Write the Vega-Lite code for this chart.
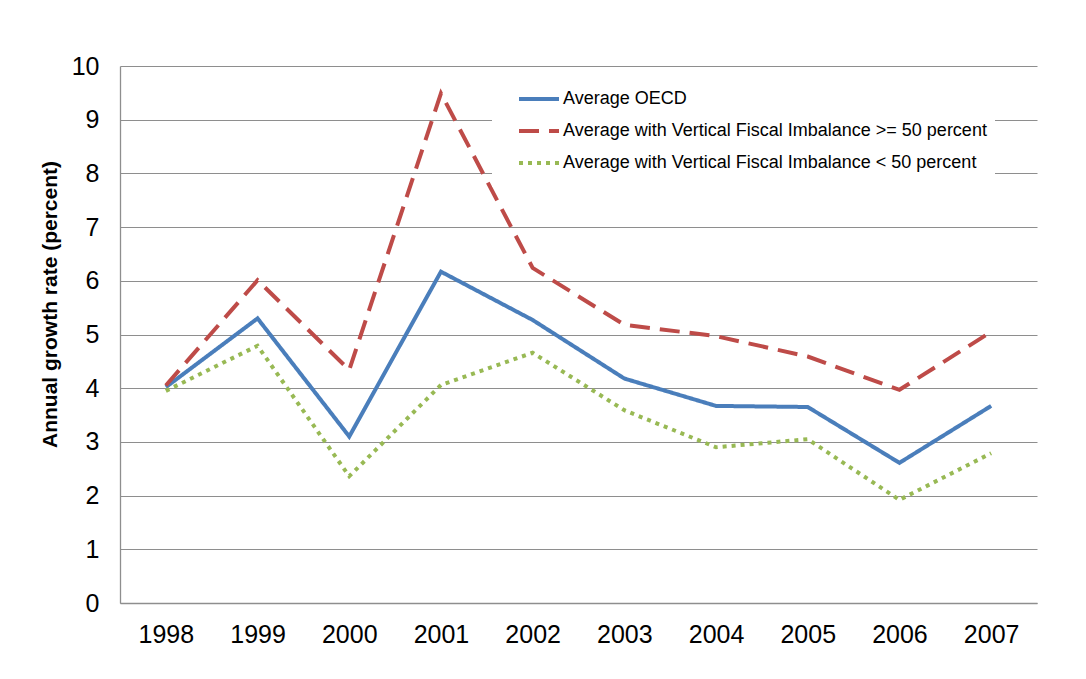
{
  "$schema": "https://vega.github.io/schema/vega-lite/v6.json",
  "width": 917,
  "height": 537,
  "autosize": "none",
  "padding": {"left": 120, "top": 66, "right": 49, "bottom": 76},
  "background": "white",
  "config": {"view": {"stroke": null}, "font": "Liberation Sans"},
  "data": {"values": [
    {"series": "Average OECD", "year": "1998", "value": 4.02},
    {"series": "Average OECD", "year": "1999", "value": 5.30},
    {"series": "Average OECD", "year": "2000", "value": 3.10},
    {"series": "Average OECD", "year": "2001", "value": 6.17},
    {"series": "Average OECD", "year": "2002", "value": 5.27},
    {"series": "Average OECD", "year": "2003", "value": 4.18},
    {"series": "Average OECD", "year": "2004", "value": 3.67},
    {"series": "Average OECD", "year": "2005", "value": 3.65},
    {"series": "Average OECD", "year": "2006", "value": 2.61},
    {"series": "Average OECD", "year": "2007", "value": 3.67},
    {"series": "Average with Vertical Fiscal Imbalance >= 50 percent", "year": "1998", "value": 4.05},
    {"series": "Average with Vertical Fiscal Imbalance >= 50 percent", "year": "1999", "value": 6.01},
    {"series": "Average with Vertical Fiscal Imbalance >= 50 percent", "year": "2000", "value": 4.34},
    {"series": "Average with Vertical Fiscal Imbalance >= 50 percent", "year": "2001", "value": 9.49},
    {"series": "Average with Vertical Fiscal Imbalance >= 50 percent", "year": "2002", "value": 6.24},
    {"series": "Average with Vertical Fiscal Imbalance >= 50 percent", "year": "2003", "value": 5.18},
    {"series": "Average with Vertical Fiscal Imbalance >= 50 percent", "year": "2004", "value": 4.97},
    {"series": "Average with Vertical Fiscal Imbalance >= 50 percent", "year": "2005", "value": 4.59},
    {"series": "Average with Vertical Fiscal Imbalance >= 50 percent", "year": "2006", "value": 3.97},
    {"series": "Average with Vertical Fiscal Imbalance >= 50 percent", "year": "2007", "value": 5.05},
    {"series": "Average with Vertical Fiscal Imbalance < 50 percent", "year": "1998", "value": 3.95},
    {"series": "Average with Vertical Fiscal Imbalance < 50 percent", "year": "1999", "value": 4.79},
    {"series": "Average with Vertical Fiscal Imbalance < 50 percent", "year": "2000", "value": 2.36},
    {"series": "Average with Vertical Fiscal Imbalance < 50 percent", "year": "2001", "value": 4.06},
    {"series": "Average with Vertical Fiscal Imbalance < 50 percent", "year": "2002", "value": 4.66},
    {"series": "Average with Vertical Fiscal Imbalance < 50 percent", "year": "2003", "value": 3.59},
    {"series": "Average with Vertical Fiscal Imbalance < 50 percent", "year": "2004", "value": 2.90},
    {"series": "Average with Vertical Fiscal Imbalance < 50 percent", "year": "2005", "value": 3.05},
    {"series": "Average with Vertical Fiscal Imbalance < 50 percent", "year": "2006", "value": 1.92},
    {"series": "Average with Vertical Fiscal Imbalance < 50 percent", "year": "2007", "value": 2.79}
  ]},
  "mark": {"type": "line", "strokeWidth": 4},
  "encoding": {
    "x": {
      "field": "year", "type": "ordinal",
      "scale": {"type": "point", "padding": 0.5},
      "axis": {"title": null, "labelAngle": 0, "ticks": false, "grid": false, "domainColor": "#8E8E8E", "domainWidth": 1.3, "labelFontSize": 25, "labelColor": "black", "labelPadding": 19}
    },
    "y": {
      "field": "value", "type": "quantitative",
      "scale": {"domain": [0, 10]},
      "axis": {
        "title": "Annual growth rate (percent)",
        "values": [0, 1, 2, 3, 4, 5, 6, 7, 8, 9, 10],
        "ticks": false, "gridColor": "#8E8E8E", "gridWidth": 1.2, "gridOpacity": 1,
        "domainColor": "#8E8E8E", "domainWidth": 1.3,
        "labelFontSize": 25, "labelColor": "black", "labelPadding": 21,
        "titleFontSize": 21, "titleFontWeight": "bold", "titleColor": "black",
        "titleX": -64, "titleY": 238, "titleAngle": -90, "titleAlign": "center", "titleBaseline": "alphabetic"
      }
    },
    "color": {
      "field": "series", "type": "nominal",
      "scale": {
        "domain": ["Average OECD", "Average with Vertical Fiscal Imbalance >= 50 percent", "Average with Vertical Fiscal Imbalance < 50 percent"],
        "range": ["#4A7EBB", "#BE4B48", "#98B954"]
      },
      "legend": {
        "title": " ", "titleOrient": "left", "titleFontSize": 1, "titlePadding": 17,
        "orient": "none", "legendX": 372, "legendY": 9,
        "symbolType": "stroke", "symbolSize": 1600, "symbolStrokeWidth": 4,
        "labelFontSize": 18, "labelColor": "black", "labelOffset": 2, "labelLimit": 600,
        "clipHeight": 32, "rowPadding": 0, "padding": 8, "fillColor": "white"
      }
    },
    "strokeDash": {
      "field": "series", "type": "nominal",
      "scale": {
        "domain": ["Average OECD", "Average with Vertical Fiscal Imbalance >= 50 percent", "Average with Vertical Fiscal Imbalance < 50 percent"],
        "range": [[1, 0], [20, 10], [4, 5]]
      },
      "legend": {
        "title": " ", "titleOrient": "left", "titleFontSize": 1, "titlePadding": 17,
        "orient": "none", "legendX": 372, "legendY": 9,
        "symbolType": "stroke", "symbolSize": 1600, "symbolStrokeWidth": 4,
        "labelFontSize": 18, "labelColor": "black", "labelOffset": 2, "labelLimit": 600,
        "clipHeight": 32, "rowPadding": 0, "padding": 8, "fillColor": "white"
      }
    }
  }
}
